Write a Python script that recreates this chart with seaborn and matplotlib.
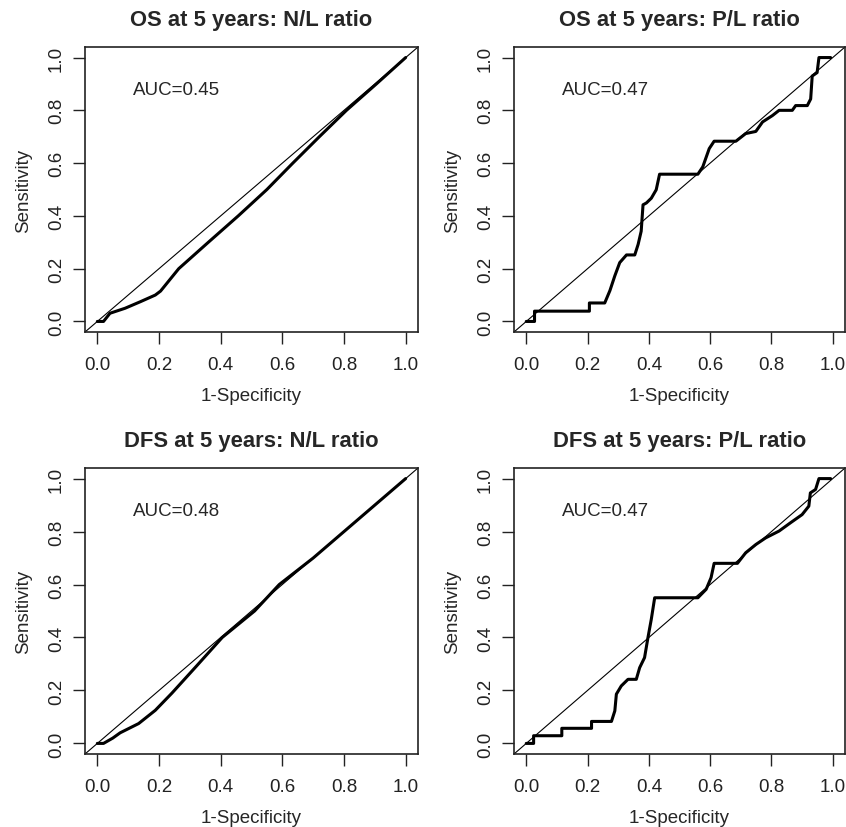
import pandas as pd
import matplotlib
matplotlib.use("Agg")
import matplotlib.pyplot as plt
import seaborn as sns

# ROC curve points (1-specificity, sensitivity)
os_nl_fpr = [0.0, 0.02, 0.041, 0.09, 0.14, 0.188, 0.205, 0.264, 0.36, 0.457, 0.55, 0.634, 0.72, 0.808, 0.905, 1.0]
os_nl_tpr = [0.0, 0.0, 0.031, 0.05, 0.075, 0.10, 0.115, 0.20, 0.30, 0.40, 0.50, 0.60, 0.70, 0.80, 0.90, 1.0]

os_pl_fpr = [0.0, 0.027, 0.027, 0.206, 0.206, 0.256, 0.273, 0.289, 0.305, 0.327, 0.354, 0.365, 0.375,
             0.381, 0.392, 0.408, 0.424, 0.435, 0.56, 0.576, 0.597, 0.613, 0.684, 0.716, 0.749, 0.771,
             0.803, 0.825, 0.868, 0.879, 0.917, 0.928, 0.933, 0.949, 0.955, 0.993]
os_pl_tpr = [0.0, 0.0, 0.039, 0.039, 0.07, 0.07, 0.117, 0.173, 0.223, 0.252, 0.252, 0.292, 0.342,
             0.442, 0.449, 0.467, 0.499, 0.558, 0.558, 0.586, 0.655, 0.683, 0.683, 0.712, 0.72, 0.756,
             0.78, 0.80, 0.80, 0.818, 0.818, 0.843, 0.93, 0.943, 1.0, 1.0]

dfs_nl_fpr = [0.0, 0.02, 0.05, 0.074, 0.134, 0.188, 0.242, 0.32, 0.405, 0.51, 0.59, 0.70, 0.80, 0.90, 1.0]
dfs_nl_tpr = [0.0, 0.0, 0.02, 0.04, 0.075, 0.125, 0.19, 0.29, 0.40, 0.50, 0.60, 0.70, 0.80, 0.90, 1.0]

dfs_pl_fpr = [0.0, 0.024, 0.024, 0.116, 0.116, 0.213, 0.213, 0.278, 0.289, 0.294, 0.31, 0.332, 0.359,
              0.37, 0.386, 0.397, 0.408, 0.419, 0.56, 0.587, 0.603, 0.613, 0.689, 0.716, 0.749, 0.781,
              0.825, 0.862, 0.90, 0.922, 0.927, 0.944, 0.955, 0.993]
dfs_pl_tpr = [0.0, 0.0, 0.029, 0.029, 0.057, 0.057, 0.083, 0.083, 0.123, 0.186, 0.217, 0.242, 0.242,
              0.286, 0.324, 0.399, 0.469, 0.55, 0.55, 0.582, 0.626, 0.68, 0.68, 0.72, 0.751, 0.776,
              0.802, 0.833, 0.864, 0.896, 0.946, 0.959, 1.0, 1.0]

titles = ["OS at 5 years: N/L ratio", "OS at 5 years: P/L ratio",
          "DFS at 5 years: N/L ratio", "DFS at 5 years: P/L ratio"]
aucs = ["AUC=0.45", "AUC=0.47", "AUC=0.48", "AUC=0.47"]
curves = [(os_nl_fpr, os_nl_tpr), (os_pl_fpr, os_pl_tpr),
          (dfs_nl_fpr, dfs_nl_tpr), (dfs_pl_fpr, dfs_pl_tpr)]
ticks = [0.0, 0.2, 0.4, 0.6, 0.8, 1.0]

sns.set_theme(style="white")
plt.rcParams["font.family"] = ["Liberation Sans", "DejaVu Sans"]

fig = plt.figure(figsize=(8.46, 8.28), dpi=100)
W, H = 846, 828
boxes = [(85, 418, 48, 333), (514, 845, 48, 333),
         (85, 418, 469, 755), (514, 845, 469, 755)]

for (l, r, t, b), title, auc, (fpr, tpr) in zip(boxes, titles, aucs, curves):
    ax = fig.add_axes([l / W, 1 - b / H, (r - l) / W, (b - t) / H])
    df = pd.DataFrame({"fpr": fpr, "tpr": tpr})
    ax.axline((0, 0), (1, 1), color="black", lw=0.8)
    sns.lineplot(data=df, x="fpr", y="tpr", sort=False, estimator=None,
                 color="black", lw=2.2, ax=ax)
    ax.set_xlim(-0.04, 1.04)
    ax.set_ylim(-0.04, 1.04)
    ax.set_xticks(ticks)
    ax.set_yticks(ticks)
    ax.set_xticklabels([f"{v:.1f}" for v in ticks])
    ax.set_yticklabels([f"{v:.1f}" for v in ticks], rotation=90, va="center")
    ax.tick_params(direction="out", length=8.5, width=1, colors="#222222",
                   labelsize=13.5, bottom=True, left=True)
    ax.tick_params(axis="x", pad=9)
    ax.tick_params(axis="y", pad=6)
    for s in ax.spines.values():
        s.set_color("#222222")
        s.set_linewidth(1.2)
    ax.set_xlabel("1-Specificity", fontsize=13.5, labelpad=10)
    ax.set_ylabel("Sensitivity", fontsize=13.5, labelpad=11)
    ax.set_title(title, fontsize=15.8, fontweight="bold", pad=16)
    ax.text(0.117, 0.88, auc, fontsize=13.5, ha="left", va="center")

plt.savefig("out.png", dpi=100)
